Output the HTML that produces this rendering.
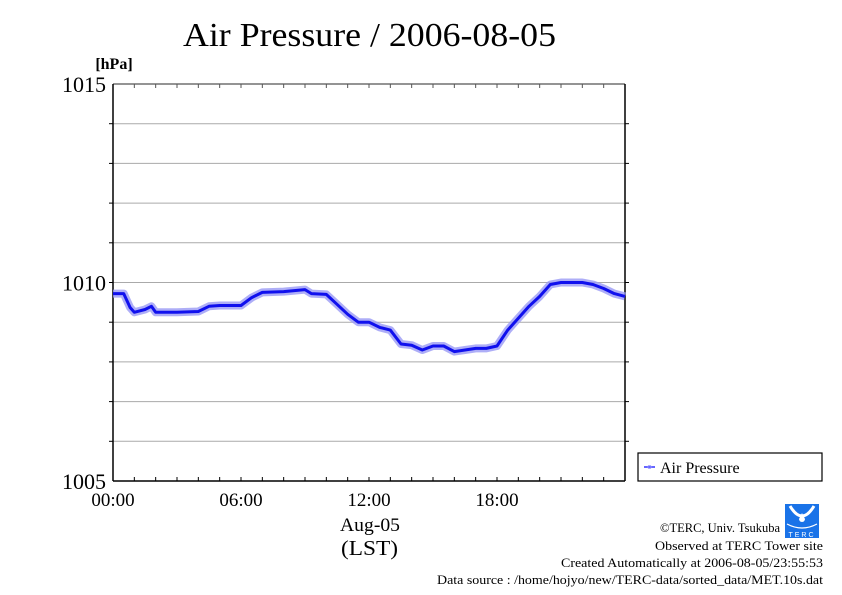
<!DOCTYPE html>
<html><head><meta charset="utf-8">
<style>
body{margin:0;background:#fff;}
svg{display:block;font-family:"Liberation Serif",serif;}
</style></head>
<body>
<svg id="chart" width="842" height="595" viewBox="0 0 842 595" xmlns="http://www.w3.org/2000/svg">
<text x="183" y="46" font-size="34" textLength="373" lengthAdjust="spacingAndGlyphs">Air Pressure / 2006-08-05</text>
<text x="114" y="69" font-size="16" font-weight="bold" text-anchor="middle">[hPa]</text>
<g id="grid"></g>
<g id="axes"></g>
<g id="series"></g>
<text x="340" y="531" font-size="19" textLength="60" lengthAdjust="spacingAndGlyphs">Aug-05</text>
<text x="341" y="555" font-size="21" textLength="57" lengthAdjust="spacingAndGlyphs">(LST)</text>
<g>
<rect x="638" y="453" width="184" height="28" fill="#fff" stroke="#000" stroke-width="1.2"/>
<line x1="644" y1="467" x2="655" y2="467" stroke="#33f" stroke-width="1.5"/>
<circle cx="649.5" cy="467" r="1.6" fill="none" stroke="#99f" stroke-width="0.8"/>
<text x="660" y="473" font-size="16">Air Pressure</text>
</g>
<g>
<rect x="785" y="504" width="34" height="34" fill="#1a73e8"/>
<path d="M790,506 Q802,526 814,506" fill="none" stroke="#fff" stroke-width="3"/>
<path d="M802,513 l-3,6 a3,3 0 0 0 6,0 z" fill="#fff"/>
<path d="M787,524 Q802,532 817,524" fill="none" stroke="#fff" stroke-width="1.2"/>
<text x="802" y="537" font-size="7" fill="#fff" text-anchor="middle" letter-spacing="2" font-family="Liberation Sans,sans-serif">TERC</text>
</g>
<g font-size="13">
<text x="660" y="532" textLength="120" lengthAdjust="spacingAndGlyphs">©TERC, Univ. Tsukuba</text>
<text x="655" y="550" textLength="168" lengthAdjust="spacingAndGlyphs">Observed at TERC Tower site</text>
<text x="561" y="567" textLength="262" lengthAdjust="spacingAndGlyphs">Created Automatically at 2006-08-05/23:55:53</text>
<text x="437" y="584" textLength="386" lengthAdjust="spacingAndGlyphs">Data source : /home/hojyo/new/TERC-data/sorted_data/MET.10s.dat</text>
</g>
</svg>
<script>
const hours = [0,0.5,0.8,1,1.5,1.8,2,3,4,4.5,5,6,6.5,7,8,9,9.3,10,10.5,11,11.5,12,12.5,13,13.5,14,14.5,15,15.5,16,16.5,17,17.5,18,18.5,19,19.5,20,20.5,21,21.5,22,22.5,23,23.5,24];
const pressure = [1009.72,1009.72,1009.37,1009.25,1009.32,1009.4,1009.25,1009.25,1009.27,1009.4,1009.42,1009.42,1009.62,1009.75,1009.77,1009.82,1009.72,1009.7,1009.45,1009.2,1009.0,1009.0,1008.87,1008.8,1008.45,1008.42,1008.3,1008.4,1008.4,1008.26,1008.3,1008.34,1008.34,1008.4,1008.8,1009.1,1009.4,1009.65,1009.95,1010.0,1010.0,1010.0,1009.95,1009.85,1009.72,1009.65];
const yTicks = [1005,1010,1015];
const xTickHours = [0,6,12,18];
const xTickLabels = ["00:00","06:00","12:00","18:00"];

const NS="http://www.w3.org/2000/svg";
const X0=113,X1=625,Y0=481,Y1=84;
const xs=h=>X0+(h/24)*(X1-X0);
const ys=v=>Y0-(v-1005)/10*(Y0-Y1);
function mk(tag,attrs,parent){const e=document.createElementNS(NS,tag);for(const k in attrs)e.setAttribute(k,attrs[k]);parent.appendChild(e);return e;}
const grid=document.getElementById('grid'),axes=document.getElementById('axes'),series=document.getElementById('series');
for(let v=1006;v<1015;v++){
  const g=mk('line',{x1:X0,x2:X1,y1:ys(v),y2:ys(v),stroke:'#aaa','stroke-width':1},grid);
  
  
}
mk('line',{x1:X0,x2:X1,y1:Y1,y2:Y1,stroke:'#555','stroke-width':1.2},axes);
mk('line',{x1:X0,x2:X1,y1:Y0,y2:Y0,stroke:'#000','stroke-width':1.5},axes);
mk('line',{x1:X0,x2:X0,y1:Y1,y2:Y0,stroke:'#000','stroke-width':1.5},axes);
mk('line',{x1:X1,x2:X1,y1:Y1,y2:Y0,stroke:'#000','stroke-width':1.5},axes);
for(let h=1;h<24;h++){
  mk('line',{x1:xs(h),x2:xs(h),y1:Y1,y2:Y1+4,stroke:'#555'},axes);
  mk('line',{x1:xs(h),x2:xs(h),y1:Y0,y2:Y0-4,stroke:'#000'},axes);
}
for(let v=1006;v<1015;v++){
  mk('line',{x1:X0-4,x2:X0,y1:ys(v),y2:ys(v),stroke:'#000'},axes);
  mk('line',{x1:X1,x2:X1+4,y1:ys(v),y2:ys(v),stroke:'#000'},axes);
}
yTicks.forEach(v=>{
  const t=mk('text',{x:X0-7,y:ys(v)+8,'font-size':22,'text-anchor':'end'},axes);
  t.textContent=v;
  
  
});
xTickHours.forEach((h,i)=>{
  const t=mk('text',{x:xs(h),y:Y0+25,'font-size':19,'text-anchor':'middle'},axes);
  t.textContent=xTickLabels[i];
  
  
});
const d=hours.map((h,i)=>(i?'L':'M')+xs(h).toFixed(1)+','+ys(pressure[i]).toFixed(1)).join(' ');
const band=mk('path',{d:d,fill:'none',stroke:'#9a9af5','stroke-width':8,'stroke-linejoin':'round','stroke-opacity':0.8},series);


const line=mk('path',{d:d,fill:'none',stroke:'#1010ee','stroke-width':3,'stroke-linejoin':'round'},series);


</script>
</body></html>
